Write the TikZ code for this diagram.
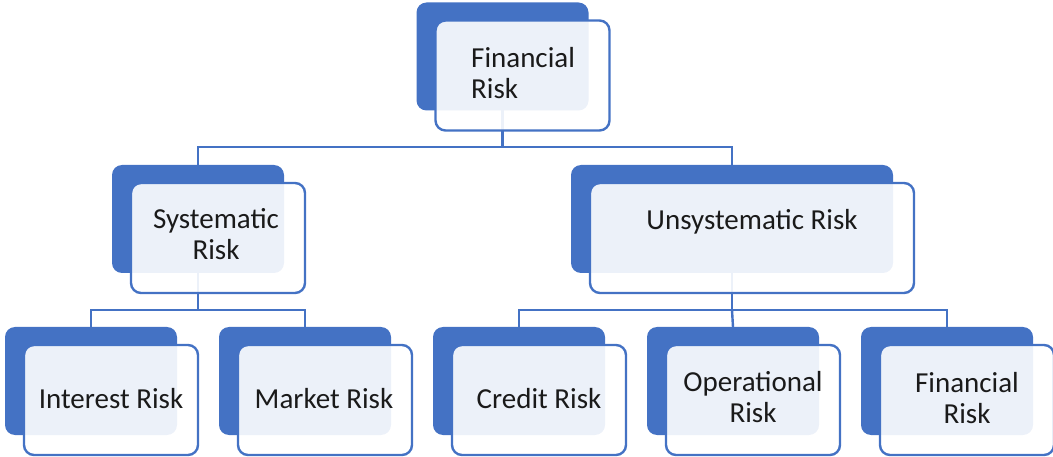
\documentclass[tikz,border=0pt]{standalone}
\usepackage{fontspec}
\setmainfont{Carlito}
\definecolor{accent}{HTML}{4472C4}
\definecolor{ink}{HTML}{1A1A1A}
\begin{document}
\begin{tikzpicture}[x=1pt,y=-1pt,
  backbox/.style={rectangle, rounded corners=10pt, fill=accent, minimum width=172pt, minimum height=108pt, inner sep=0pt, outer sep=0pt},
  frontbox/.style={rectangle, rounded corners=10pt, draw=accent, line width=2.4pt, fill=white, fill opacity=0.9, minimum width=174pt, minimum height=110pt, inner sep=0pt, outer sep=0pt},
  txt/.style={anchor=base, align=center, font=\fontsize{29}{31}\selectfont, text=ink, inner sep=0pt},
  conn/.style={draw=accent, line width=2.4pt}
]
\useasboundingbox (0,0) rectangle (1053,457);
% back boxes
\node[backbox] (b0) at (502.5,56.5) {};
\node[backbox] (bs) at (198,219) {};
\node[backbox, minimum width=322pt] (bu) at (732,219) {};
\node[backbox] (bi) at (91,381) {};
\node[backbox] (bm) at (305,381) {};
\node[backbox] (bc) at (519,381) {};
\node[backbox] (bo) at (733,381) {};
\node[backbox] (bf) at (947,381) {};
% connectors
\coordinate (j0) at (502.5,147);
\coordinate (js) at (198,310);
\coordinate (ju) at (732,310);
\draw[conn] (b0.south) -- (j0) -| (bs.north);
\draw[conn] (j0) -| (bu.north);
\draw[conn] (bs.south) -- (js) -| (bi.north);
\draw[conn] (js) -| (bm.north);
\draw[conn] (bu.south) -- (ju) -| (bc.north);
\draw[conn] (ju) -- (bo.north);
\draw[conn] (ju) -| (bf.north);
% front boxes
\node[frontbox] (f0) at (522.5,75.5) {};
\node[frontbox] (fs) at (218,238) {};
\node[frontbox, minimum width=324pt] (fu) at (752,238) {};
\node[frontbox] (fi) at (111,400) {};
\node[frontbox] (fm) at (325,400) {};
\node[frontbox] (fc) at (539,400) {};
\node[frontbox] (fo) at (753,400) {};
\node[frontbox] (ff) at (967,400) {};
% texts
\node[txt, anchor=base west, align=left] (t0) at (471,99) {Financial\\Risk};
\node[txt] (ts) at (216,260) {Systematic\\Risk};
\node[txt] (tu) at (752,230) {Unsystematic Risk};
\node[txt] (ti) at (111,408) {Interest Risk};
\node[txt] (tm) at (324,408) {Market Risk};
\node[txt] (tc) at (539,408) {Credit Risk};
\node[txt] (to) at (753,422) {Operational\\Risk};
\node[txt] (tf) at (967,423) {Financial\\Risk};
\end{tikzpicture}
\end{document}
